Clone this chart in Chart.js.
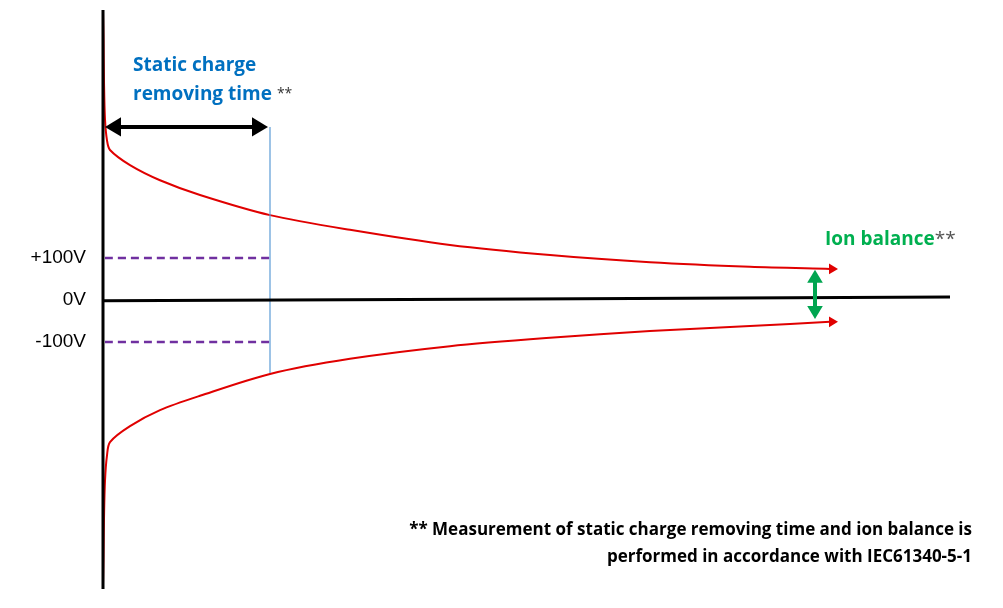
<!DOCTYPE html>
<html><head><meta charset="utf-8">
<script src="https://cdn.jsdelivr.net/npm/chart.js@4/dist/chart.umd.min.js"></script>
<style>html,body{margin:0;padding:0;background:#fff}#wrap{width:1003px;height:608px;position:relative}</style>
</head><body><div id="wrap"><canvas id="c"></canvas></div>
<script>
// time axis (arbitrary units), voltage (V)
const upperTime = [103,103.5,104,105,107,110,130,160,200,270,350,450,550,650,750,830];
const upperVolt = [686,620,520,430,380,357,321,285,250,202,167,131,107,90,79,74];
const lowerTime = [103,103.5,104,105,107,110,130,160,200,270,350,450,550,650,750,830];
const lowerVolt = [-680,-610,-520,-430,-370,-338,-300,-262,-228,-176,-140,-110,-90,-74,-62,-52];
const zeroLine = [[103,-2],[950,7]];
const yAxisLine = [[103,690],[103,-688]];
const plus100 = [[105,100],[273,100]];
const minus100 = [[105,-100],[273,-100]];
const removeTimeMark = [[270,412],[270,-174]];
const tickLabels = ["+100V","0V","-100V"];
const tickValues = [100,0,-100];
const removeArrow = {t0:105,t1:268,v:412};
const balanceArrow = {t:815,v0:72,v1:-45};

const pts = (xs,ys)=>xs.map((x,i)=>({x,y:ys[i]}));
const pr = a=>a.map(p=>({x:p[0],y:p[1]}));
const line = (data,color,w,dash)=>({data,borderColor:color,borderWidth:w,borderDash:dash||[],pointRadius:0,tension:0.3,fill:false});

function arrowHead(ctx,x,y,ang,size,color){
  ctx.save();ctx.fillStyle=color;ctx.translate(x,y);ctx.rotate(ang);
  ctx.beginPath();ctx.moveTo(0,0);ctx.lineTo(-size,-size*0.6);ctx.lineTo(-size,size*0.6);ctx.closePath();ctx.fill();ctx.restore();
}
const deco = {id:'deco',afterDatasetsDraw(ch){
  const ctx=ch.ctx,X=ch.scales.x,Y=ch.scales.y;
  arrowHead(ctx,X.getPixelForValue(838),Y.getPixelForValue(upperVolt[upperVolt.length-1]),0,9,'#e00000');
  arrowHead(ctx,X.getPixelForValue(838),Y.getPixelForValue(lowerVolt[lowerVolt.length-1]),0,9,'#e00000');
  let x0=X.getPixelForValue(removeArrow.t0),x1=X.getPixelForValue(removeArrow.t1),y=Y.getPixelForValue(removeArrow.v);
  ctx.save();ctx.strokeStyle='#000';ctx.lineWidth=4;ctx.beginPath();ctx.moveTo(x0+12,y);ctx.lineTo(x1-12,y);ctx.stroke();ctx.restore();
  arrowHead(ctx,x1,y,0,16,'#000');arrowHead(ctx,x0,y,Math.PI,16,'#000');
  let bx=X.getPixelForValue(balanceArrow.t),by0=Y.getPixelForValue(balanceArrow.v0),by1=Y.getPixelForValue(balanceArrow.v1);
  ctx.save();ctx.strokeStyle='#00a550';ctx.lineWidth=4;ctx.beginPath();ctx.moveTo(bx,by0+10);ctx.lineTo(bx,by1-10);ctx.stroke();ctx.restore();
  arrowHead(ctx,bx,by0,-Math.PI/2,13,'#00a550');arrowHead(ctx,bx,by1,Math.PI/2,13,'#00a550');
  ctx.save();ctx.font='19px "Liberation Sans", Arial';ctx.fillStyle='#000';ctx.textAlign='right';ctx.textBaseline='middle';
  tickLabels.forEach((t,i)=>ctx.fillText(t,X.getPixelForValue(86),Y.getPixelForValue(tickValues[i])));
  ctx.textAlign='left';ctx.textBaseline='alphabetic';
  ctx.font='bold 19px "Open Sans", sans-serif';ctx.fillStyle='#0070c0';
  ctx.fillText('Static charge',X.getPixelForValue(133),71);
  ctx.fillText('removing time',X.getPixelForValue(133),100);
  let w=ctx.measureText('removing time ').width;
  ctx.font='14px "Open Sans", sans-serif';ctx.fillStyle='#333';ctx.fillText('**',X.getPixelForValue(133)+w,98);
  ctx.font='bold 19px "Open Sans", sans-serif';ctx.fillStyle='#00b050';
  ctx.fillText('Ion balance',825,245);
  w=ctx.measureText('Ion balance').width;
  ctx.font='19px "Open Sans", sans-serif';ctx.fillStyle='#555';ctx.fillText('**',825+w,245);
  ctx.font='bold 17px "Open Sans", sans-serif';ctx.fillStyle='#000';ctx.textAlign='right';
  ctx.fillText('** Measurement of static charge removing time and ion balance is',972,535);
  ctx.fillText('performed in accordance with IEC61340-5-1',972,562);
  ctx.restore();
}};

new Chart(document.getElementById('c'),{
  type:'line',
  data:{datasets:[
    line(pr(zeroLine),'#000',3),
    line(pr(yAxisLine),'#000',3),
    line(pr(plus100),'#7030a0',2.5,[8,5]),
    line(pr(minus100),'#7030a0',2.5,[8,5]),
    line(pr(removeTimeMark),'#5b9bd5',1.2),
    line(pts(upperTime,upperVolt),'#e00000',2),
    line(pts(lowerTime,lowerVolt),'#e00000',2)
  ]},
  options:{responsive:true,maintainAspectRatio:false,animation:false,
    layout:{padding:0},
    plugins:{legend:{display:false},tooltip:{enabled:false}},
    scales:{x:{type:'linear',min:0,max:1003,display:false},y:{type:'linear',min:-733,max:714,display:false}}},
  plugins:[deco]
});
</script></body></html>
